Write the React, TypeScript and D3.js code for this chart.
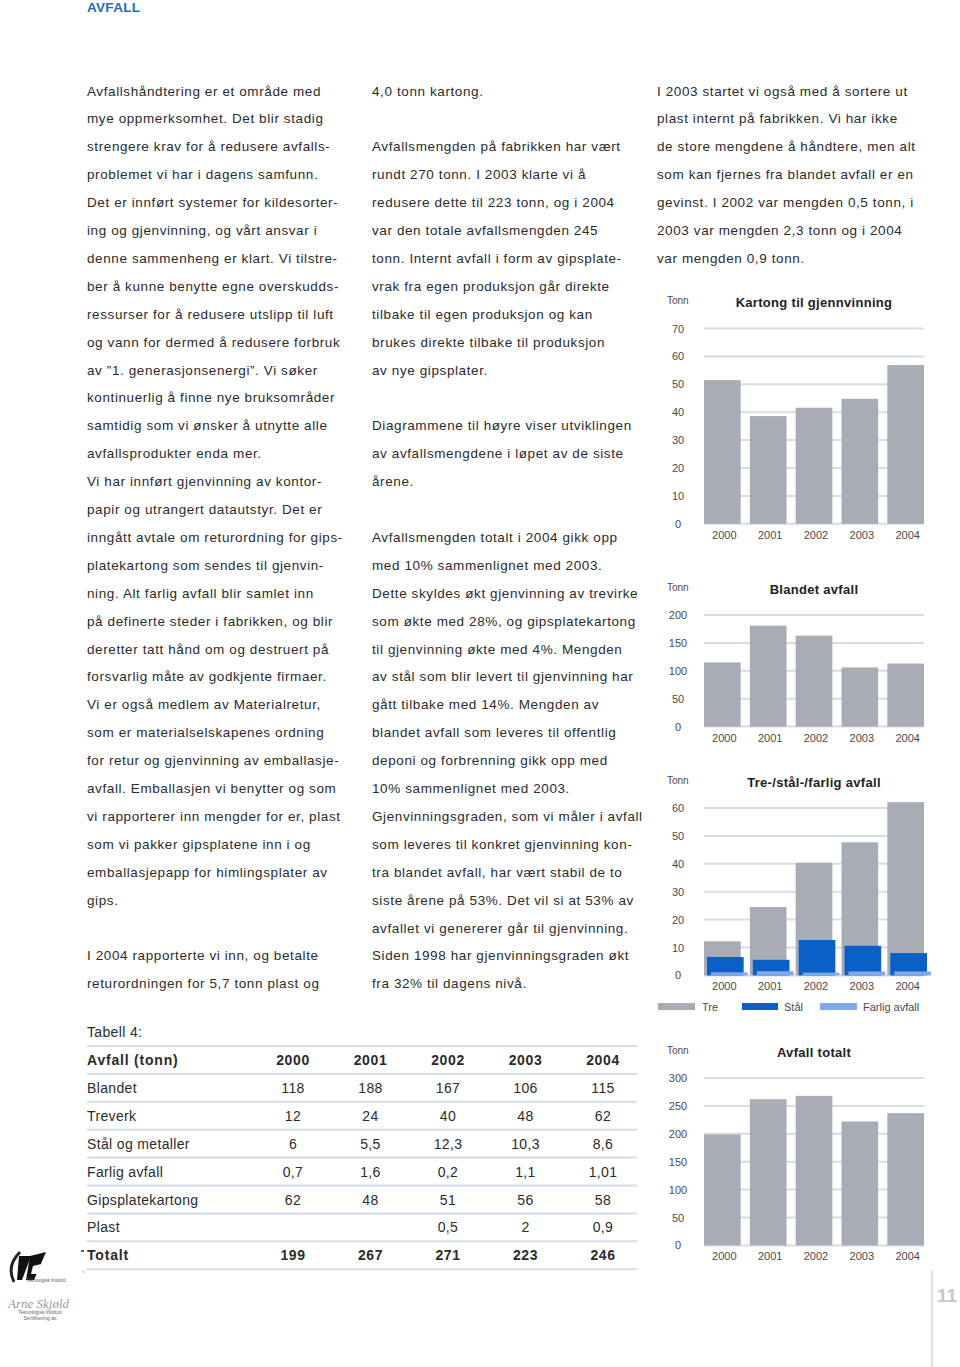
import React from 'react';
import * as d3 from 'd3';

// ---------- DATA ----------
const years = ['2000', '2001', '2002', '2003', '2004'];
const kartong = [51.5, 38.6, 41.6, 44.8, 56.9];
const blandet = [115, 181, 163, 106, 113];
const tre = [12.2, 24.5, 40.4, 47.7, 62.1];
const stal = [6.6, 5.6, 12.7, 10.6, 8.0];
const farlig = [1.1, 1.5, 1.0, 1.4, 1.4];
const totalt = [199, 262, 268, 222, 237];

const tableHeaderLabel = 'Avfall (tonn)';
const tableLabels = ['Blandet', 'Treverk', 'Stål og metaller', 'Farlig avfall', 'Gipsplatekartong', 'Plast'];
const rowBlandet = ['118', '188', '167', '106', '115'];
const rowTreverk = ['12', '24', '40', '48', '62'];
const rowStal = ['6', '5,5', '12,3', '10,3', '8,6'];
const rowFarlig = ['0,7', '1,6', '0,2', '1,1', '1,01'];
const rowGips = ['62', '48', '51', '56', '58'];
const rowPlast = ['', '', '0,5', '2', '0,9'];
const totalLabel = 'Totalt';
const rowTotalt = ['199', '267', '271', '223', '246'];

const col1 = [
  'Avfallshåndtering er et område med',
  'mye oppmerksomhet. Det blir stadig',
  'strengere krav for å redusere avfalls-',
  'problemet vi har i dagens samfunn.',
  'Det er innført systemer for kildesorter-',
  'ing og gjenvinning, og vårt ansvar i',
  'denne sammenheng er klart. Vi tilstre-',
  'ber å kunne benytte egne overskudds-',
  'ressurser for å redusere utslipp til luft',
  'og vann for dermed å redusere forbruk',
  'av ”1. generasjonsenergi”. Vi søker',
  'kontinuerlig å finne nye bruksområder',
  'samtidig som vi ønsker å utnytte alle',
  'avfallsprodukter enda mer.',
  'Vi har innført gjenvinning av kontor-',
  'papir og utrangert datautstyr. Det er',
  'inngått avtale om returordning for gips-',
  'platekartong som sendes til gjenvin-',
  'ning. Alt farlig avfall blir samlet inn',
  'på definerte steder i fabrikken, og blir',
  'deretter tatt hånd om og destruert på',
  'forsvarlig måte av godkjente firmaer.',
  'Vi er også medlem av Materialretur,',
  'som er materialselskapenes ordning',
  'for retur og gjenvinning av emballasje-',
  'avfall. Emballasjen vi benytter og som',
  'vi rapporterer inn mengder for er, plast',
  'som vi pakker gipsplatene inn i og',
  'emballasjepapp for himlingsplater av',
  'gips.',
  '',
  'I 2004 rapporterte vi inn, og betalte',
  'returordningen for 5,7 tonn plast og',
];

const col2 = [
  '4,0 tonn kartong.',
  '',
  'Avfallsmengden på fabrikken har vært',
  'rundt 270 tonn. I 2003 klarte vi å',
  'redusere dette til 223 tonn, og i 2004',
  'var den totale avfallsmengden 245',
  'tonn. Internt avfall i form av gipsplate-',
  'vrak fra egen produksjon går direkte',
  'tilbake til egen produksjon og kan',
  'brukes direkte tilbake til produksjon',
  'av nye gipsplater.',
  '',
  'Diagrammene til høyre viser utviklingen',
  'av avfallsmengdene i løpet av de siste',
  'årene.',
  '',
  'Avfallsmengden totalt i 2004 gikk opp',
  'med 10% sammenlignet med 2003.',
  'Dette skyldes økt gjenvinning av trevirke',
  'som økte med 28%, og gipsplatekartong',
  'til gjenvinning økte med 4%. Mengden',
  'av stål som blir levert til gjenvinning har',
  'gått tilbake med 14%. Mengden av',
  'blandet avfall som leveres til offentlig',
  'deponi og forbrenning gikk opp med',
  '10% sammenlignet med 2003.',
  'Gjenvinningsgraden, som vi måler i avfall',
  'som leveres til konkret gjenvinning kon-',
  'tra blandet avfall, har vært stabil de to',
  'siste årene på 53%. Det vil si at 53% av',
  'avfallet vi genererer går til gjenvinning.',
  'Siden 1998 har gjenvinningsgraden økt',
  'fra 32% til dagens nivå.',
];

const col3 = [
  'I 2003 startet vi også med å sortere ut',
  'plast internt på fabrikken. Vi har ikke',
  'de store mengdene å håndtere, men alt',
  'som kan fjernes fra blandet avfall er en',
  'gevinst. I 2002 var mengden 0,5 tonn, i',
  '2003 var mengden 2,3 tonn og i 2004',
  'var mengden 0,9 tonn.',
];

// ---------- STYLE ----------
const FONT = '"Liberation Sans", Arial, Helvetica, sans-serif';
const TEXT = '#2b2b2b';
const AXIS = '#4a4a4a';
const GRID = '#d5dce7';
const GRAY = '#a7acb5';
const BLUE = '#0b60c8';
const LIGHTBLUE = '#80a9ea';
const LINE_H = 27.9;

type Series = { values: number[]; color: string; dx: number; dw: number };

function BarChart(props: { title: string; top: number; max: number; step: number; series: Series[] }) {
  const { title, top, max, step, series } = props;
  const n = Math.round(max / step);
  const x = d3.scaleBand<string>().domain(years).range([704, 924]).paddingInner(0.2).paddingOuter(0);
  const y = d3.scaleLinear().domain([0, max]).range([top + n * LINE_H, top]);
  const ticks = d3.range(0, max + step / 2, step);
  const bw = x.bandwidth();
  return (
    <g fontFamily={FONT}>
      <text x={667} y={top - 28} fontSize={10} fill={AXIS} dominantBaseline="central">Tonn</text>
      <text x={814} y={top - 26} fontSize={13} fontWeight="bold" fill="#222" textAnchor="middle" dominantBaseline="central" letterSpacing={0.3}>{title}</text>
      {ticks.map((t) => (
        <g key={t}>
          <line x1={704} x2={924} y1={y(t)} y2={y(t)} stroke={GRID} strokeWidth={2} />
          <text x={678} y={y(t)} fontSize={11} fill={AXIS} textAnchor="middle" dominantBaseline="central">{t}</text>
        </g>
      ))}
      {series.map((s, si) =>
        years.map((yr, i) => (
          <rect key={si + '-' + yr} x={(x(yr) as number) + s.dx} y={y(s.values[i])} width={bw + s.dw} height={y(0) - y(s.values[i])} fill={s.color} />
        ))
      )}
      {years.map((yr) => (
        <text key={yr} x={(x(yr) as number) + bw / 2 + 2} y={y(0) + 11} fontSize={11} fill={AXIS} textAnchor="middle" dominantBaseline="central">{yr}</text>
      ))}
    </g>
  );
}

function Column(props: { x: number; lines: string[] }) {
  return (
    <g fontFamily={FONT} fontSize={13.5} fill={TEXT} letterSpacing={0.6}>
      {props.lines.map((l, i) => (
        <text key={i} x={props.x} y={91 + i * LINE_H} dominantBaseline="central">{l}</text>
      ))}
    </g>
  );
}

function Table() {
  const colX = d3.scalePoint<string>().domain(years).range([293, 603]);
  const rows = [rowBlandet, rowTreverk, rowStal, rowFarlig, rowGips, rowPlast];
  const rowY = (i: number) => 1060 + i * 27.9;
  const lineYs = d3.range(0, 9).map((i) => 1046 + i * 27.9);
  return (
    <g fontFamily={FONT} fontSize={14} fill={TEXT} letterSpacing={0.35}>
      <text x={87} y={1032} dominantBaseline="central">Tabell 4:</text>
      {lineYs.map((ly, i) => (
        <line key={i} x1={87} x2={637} y1={ly} y2={ly} stroke={GRID} strokeWidth={2} />
      ))}
      <text x={87} y={rowY(0)} fontWeight="bold" dominantBaseline="central" letterSpacing={0.8}>{tableHeaderLabel}</text>
      {years.map((yr) => (
        <text key={yr} x={colX(yr)} y={rowY(0)} fontWeight="bold" textAnchor="middle" dominantBaseline="central" letterSpacing={0.6}>{yr}</text>
      ))}
      {rows.map((r, ri) => (
        <g key={ri}>
          <text x={87} y={rowY(ri + 1)} dominantBaseline="central">{tableLabels[ri]}</text>
          {r.map((v, ci) => (
            <text key={ci} x={colX(years[ci])} y={rowY(ri + 1)} textAnchor="middle" dominantBaseline="central">{v}</text>
          ))}
        </g>
      ))}
      <text x={87} y={rowY(7)} fontWeight="bold" dominantBaseline="central" letterSpacing={0.8}>{totalLabel}</text>
      {rowTotalt.map((v, ci) => (
        <text key={ci} x={colX(years[ci])} y={rowY(7)} fontWeight="bold" textAnchor="middle" dominantBaseline="central" letterSpacing={0.6}>{v}</text>
      ))}
    </g>
  );
}

function Logo() {
  return (
    <g fontFamily={FONT}>
      <path d="M 20 1252 Q 6 1266 14 1282" stroke="#222" strokeWidth={3} fill="none" />
      <path d="M 19 1256 L 31 1256 L 22 1280 L 17 1280 Z" fill="#111" />
      <path d="M 30 1256 L 46 1252 L 34 1280 L 26 1280 Z" fill="#111" />
      <path d="M 33 1266 L 41 1264 L 37 1274 L 31 1274 Z" fill="#fff" />
      <text x={46} y={1282} fontSize={4.5} fill="#555" textAnchor="middle">Teknologisk Institutt</text>
      <text x={8} y={1308} fontSize={13} fontStyle="italic" fill="#999" fontFamily="serif">Arne Skjøld</text>
      <text x={40} y={1314} fontSize={5} fill="#666" textAnchor="middle">Teknologisk institutt</text>
      <text x={40} y={1320} fontSize={5} fill="#666" textAnchor="middle">Sertifisering as</text>
      <line x1={81} x2={84} y1={1251} y2={1251} stroke="#222" strokeWidth={1.5} />
      <line x1={82} x2={85} y1={1272} y2={1272} stroke="#bbb" strokeWidth={1} />
    </g>
  );
}

export default function App() {
  return (
    <svg width={960} height={1367} style={{ position: 'absolute', left: 0, top: 0, background: '#fff' }}>
      <rect x={0} y={0} width={960} height={1367} fill="#fff" />
      <text x={87} y={12} fontFamily={FONT} fontSize={13.5} fontWeight="bold" fill="#1e6bc1" letterSpacing={0.3}>AVFALL</text>
      <Column x={87} lines={col1} />
      <Column x={372} lines={col2} />
      <Column x={657} lines={col3} />

      <BarChart title="Kartong til gjennvinning" top={328.5} max={70} step={10}
        series={[{ values: kartong, color: GRAY, dx: 0, dw: 0 }]} />
      <BarChart title="Blandet avfall" top={615} max={200} step={50}
        series={[{ values: blandet, color: GRAY, dx: 0, dw: 0 }]} />
      <BarChart title="Tre-/stål-/farlig avfall" top={808} max={60} step={10}
        series={[
          { values: tre, color: GRAY, dx: 0, dw: 0 },
          { values: stal, color: BLUE, dx: 3, dw: 0 },
          { values: farlig, color: LIGHTBLUE, dx: 7, dw: 0 },
        ]} />
      <g fontFamily={FONT} fontSize={11} fill={AXIS}>
        <rect x={658} y={1003} width={37} height={7} fill={GRAY} />
        <text x={702} y={1007} dominantBaseline="central">Tre</text>
        <rect x={742} y={1003} width={36} height={7} fill={BLUE} />
        <text x={784} y={1007} dominantBaseline="central">Stål</text>
        <rect x={820} y={1003} width={37} height={7} fill={LIGHTBLUE} />
        <text x={863} y={1007} dominantBaseline="central">Farlig avfall</text>
      </g>
      <BarChart title="Avfall totalt" top={1078} max={300} step={50}
        series={[{ values: totalt, color: GRAY, dx: 0, dw: 0 }]} />

      <Table />
      <Logo />

      <line x1={932} x2={932} y1={1270} y2={1367} stroke="#dde2ea" strokeWidth={2} />
      <text x={937} y={1302} fontFamily={FONT} fontSize={19} fontWeight="bold" fill="#c2c7cf">11</text>
    </svg>
  );
}
